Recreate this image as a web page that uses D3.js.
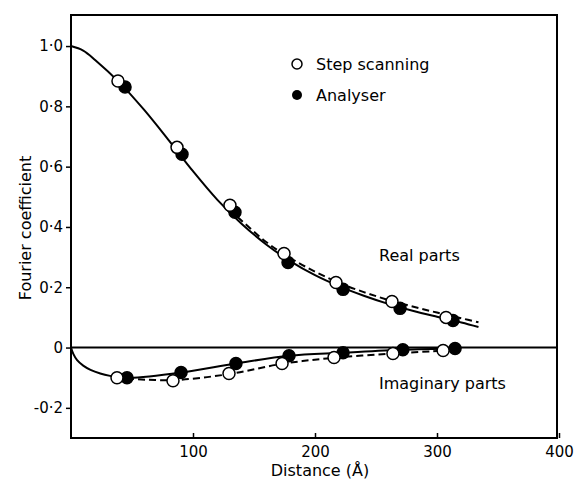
<!DOCTYPE html>
<html><head><meta charset="utf-8">
<script src="https://d3js.org/d3.v7.min.js"></script>
<style>body{margin:0;background:#fff}</style>
</head><body>
<script>
// Data
const xTicks = [100, 200, 300, 400];
const yTicks = [-0.2, 0, 0.2, 0.4, 0.6, 0.8, 1.0];
const yTickLabels = ["-0·2", "0", "0·2", "0·4", "0·6", "0·8", "1·0"];

const realStepX = [38.5, 86.9, 130.3, 174.6, 217.2, 263.1, 307.4];
const realStepY = [0.884, 0.664, 0.472, 0.312, 0.216, 0.153, 0.100];
const realAnaX = [44.3, 91.0, 134.4, 177.9, 223.0, 269.7, 313.1];
const realAnaY = [0.864, 0.641, 0.449, 0.282, 0.193, 0.130, 0.090];

const imagStepX = [37.7, 83.6, 129.5, 173.0, 215.6, 263.9, 305.0];
const imagStepY = [-0.100, -0.110, -0.086, -0.053, -0.033, -0.020, -0.010];
const imagAnaX = [45.9, 90.2, 135.2, 178.7, 223.0, 272.0, 314.8];
const imagAnaY = [-0.100, -0.083, -0.053, -0.027, -0.017, -0.007, -0.003];

const realSolidX = [0, 10, 20, 40, 60, 80, 100, 120, 140, 160, 180, 200, 220, 240, 260, 280, 300, 320, 334];
const realSolidY = [1.0, 0.985, 0.953, 0.878, 0.788, 0.688, 0.585, 0.49, 0.41, 0.342, 0.286, 0.24, 0.203, 0.172, 0.145, 0.122, 0.102, 0.083, 0.068];
const realDashX = [130, 160, 180, 200, 220, 240, 260, 280, 300, 320, 334];
const realDashY = [0.458, 0.35, 0.296, 0.252, 0.214, 0.184, 0.158, 0.136, 0.116, 0.097, 0.084];

const imagSolidX = [0, 2, 5, 10, 16, 24, 32, 40, 48, 90.2, 135.2, 178.7, 223.0, 272.0, 314.8];
const imagSolidY = [0, -0.022, -0.042, -0.06, -0.074, -0.086, -0.094, -0.099, -0.101, -0.083, -0.053, -0.027, -0.017, -0.007, -0.003];
const imagDashX = [46, 83.6, 129.5, 173.0, 215.6, 263.9, 305.0, 318];
const imagDashY = [-0.103, -0.108, -0.088, -0.054, -0.034, -0.020, -0.010, -0.006];

const W = 574, H = 480;
const m = {l: 71, t: 15};
const svg = d3.select("body").append("svg").attr("width", W).attr("height", H);
const x = d3.scaleLinear().domain([0, 400]).range([m.l, 559]);
const y = d3.scaleLinear().domain([-0.3, 1.103]).range([438, m.t]);
const font = "'DejaVu Sans', sans-serif";

// frame
svg.append("rect").attr("x", m.l).attr("y", m.t).attr("width", x(400) - m.l - 2).attr("height", 438 - m.t)
  .attr("fill", "none").attr("stroke", "#000").attr("stroke-width", 2);

// zero line
svg.append("line").attr("x1", x(0)).attr("x2", x(400) - 2).attr("y1", y(0)).attr("y2", y(0))
  .attr("stroke", "#000").attr("stroke-width", 2);

// y axis
const yAxis = d3.axisLeft(y).tickValues(yTicks).tickSize(5).tickPadding(3)
  .tickFormat((d, i) => yTickLabels[i]);
const gy = svg.append("g").attr("transform", `translate(${m.l},0)`).call(yAxis);
gy.select(".domain").remove();
gy.selectAll("line").attr("stroke-width", 1.5);
gy.selectAll("text").attr("font-family", font).attr("font-size", 15).attr("fill", "#000");

// x axis
const xAxis = d3.axisBottom(x).tickValues(xTicks).tickSize(-5).tickPadding(8).tickFormat(d3.format("d"));
const gx = svg.append("g").attr("transform", `translate(0,438)`).call(xAxis);
gx.select(".domain").remove();
gx.selectAll("line").attr("stroke-width", 1.5);
gx.selectAll("text").attr("font-family", font).attr("font-size", 15).attr("fill", "#000");

// axis titles
svg.append("text").attr("x", 320).attr("y", 476).attr("text-anchor", "middle")
  .attr("font-family", font).attr("font-size", 16).text("Distance (Å)");
svg.append("text").attr("transform", "translate(31,228) rotate(-90)").attr("text-anchor", "middle")
  .attr("font-family", font).attr("font-size", 16).text("Fourier coefficient");

// lines
const zip = (xs, ys) => xs.map((v, i) => [v, ys[i]]);
const smooth = d3.line().x(d => x(d[0])).y(d => y(d[1])).curve(d3.curveCatmullRom.alpha(0.5));
svg.append("path").attr("d", smooth(zip(realDashX, realDashY))).attr("fill", "none")
  .attr("stroke", "#000").attr("stroke-width", 2).attr("stroke-dasharray", "7,4");
svg.append("path").attr("d", smooth(zip(realSolidX, realSolidY))).attr("fill", "none")
  .attr("stroke", "#000").attr("stroke-width", 2);
svg.append("path").attr("d", smooth(zip(imagDashX, imagDashY))).attr("fill", "none")
  .attr("stroke", "#000").attr("stroke-width", 2).attr("stroke-dasharray", "7,4");
svg.append("path").attr("d", smooth(zip(imagSolidX, imagSolidY))).attr("fill", "none")
  .attr("stroke", "#000").attr("stroke-width", 2);

// points
function pts(xs, ys, filled) {
  svg.append("g").selectAll("circle").data(zip(xs, ys)).join("circle")
    .attr("cx", d => x(d[0])).attr("cy", d => y(d[1])).attr("r", 6)
    .attr("fill", filled ? "#000" : "#fff").attr("stroke", "#000").attr("stroke-width", 1.5);
}
pts(realAnaX, realAnaY, true);
pts(imagAnaX, imagAnaY, true);
pts(realStepX, realStepY, false);
pts(imagStepX, imagStepY, false);

// legend
svg.append("circle").attr("cx", 297).attr("cy", 64).attr("r", 5).attr("fill", "#fff").attr("stroke", "#000").attr("stroke-width", 1.5);
svg.append("circle").attr("cx", 297).attr("cy", 95).attr("r", 5).attr("fill", "#000");
svg.append("text").attr("x", 316).attr("y", 70).attr("font-family", font).attr("font-size", 16).text("Step scanning");
svg.append("text").attr("x", 316).attr("y", 101).attr("font-family", font).attr("font-size", 16).text("Analyser");

svg.append("text").attr("x", 379).attr("y", 261).attr("font-family", font).attr("font-size", 16).text("Real parts");
svg.append("text").attr("x", 379).attr("y", 389).attr("font-family", font).attr("font-size", 16).text("Imaginary parts");
</script>
</body></html>
